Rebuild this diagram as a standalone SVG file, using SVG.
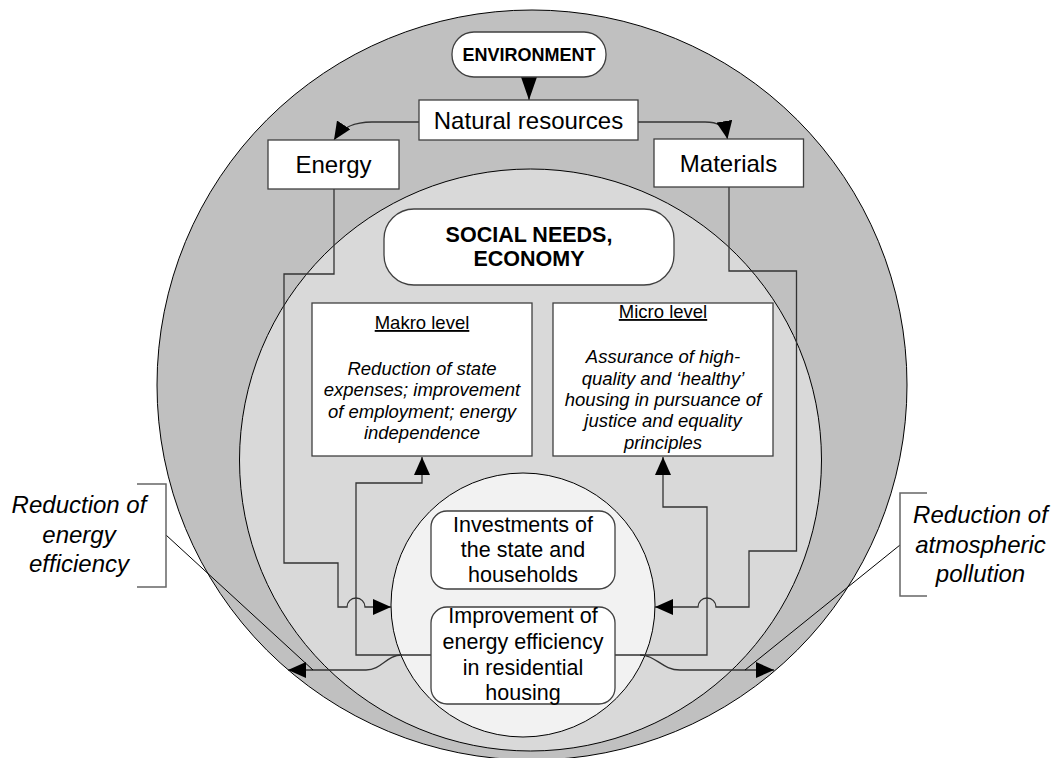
<svg xmlns="http://www.w3.org/2000/svg" width="1057" height="758" viewBox="0 0 1057 758">
  <style>
    text { font-family: "Liberation Sans", Arial, sans-serif; fill: #000; }
    .box { fill: #fff; stroke: #404040; stroke-width: 1.3; }
    .ring { stroke: #000; stroke-width: 1; }
    .link { fill: none; stroke: #333; stroke-width: 1.3; }
    .thin { fill: none; stroke: #000; stroke-width: 1; }
    .brace { fill: none; stroke: #666; stroke-width: 1.5; }
    .t24 { font-size: 24px; text-anchor: middle; }
    .t21 { font-size: 21.5px; text-anchor: middle; }
    .bold { font-weight: bold; text-anchor: middle; }
    .lvl { font-size: 18.5px; text-anchor: middle; text-decoration: underline; }
    .it { font-size: 18.5px; font-style: italic; text-anchor: middle; }
    .note { font-size: 24px; font-style: italic; text-anchor: middle; }
  </style>
  <defs>
    <marker id="head" markerUnits="userSpaceOnUse" markerWidth="18" markerHeight="16" viewBox="0 0 18 16" refX="18" refY="8" orient="auto">
      <path d="M0,0 L18,8 L0,16 z" fill="#000"/>
    </marker>
    <marker id="headLong" markerUnits="userSpaceOnUse" markerWidth="23" markerHeight="16" viewBox="0 0 23 16" refX="23" refY="8" orient="auto">
      <path d="M0,0 L23,8 L0,16 z" fill="#000"/>
    </marker>
  </defs>

  <!-- nested spheres: environment, society/economy, housing -->
  <g id="spheres">
    <circle class="ring" cx="532" cy="385" r="375" fill="#c0c0c0"/>
    <circle class="ring" cx="530.5" cy="460" r="291" fill="#d9d9d9"/>
    <circle class="ring" cx="523" cy="605" r="132" fill="#f2f2f2"/>
  </g>

  <!-- connectors -->
  <g id="connectors">
    <path class="link" d="M529,77 L529,100" marker-end="url(#headLong)"/>
    <path class="link" d="M419,122 L372,122 C356,122 343,126 334,140" marker-end="url(#head)"/>
    <path class="link" d="M638,122 L705,122 C717,122 725,125 727.5,139" marker-end="url(#head)"/>
    <!-- energy into housing -->
    <path class="link" d="M334,189 L334,274 L284,274 L284,563 L338,563 L338,607 L347,607 A9,9 0 0 1 365,607 L391,607" marker-end="url(#head)"/>
    <!-- materials into housing -->
    <path class="link" d="M729,187 L729,271 L796.5,271 L796.5,551 L749,551 L749,607 L716,607 A9,9 0 0 0 698,607 L655,607" marker-end="url(#head)"/>
    <!-- housing to macro and micro levels -->
    <path class="link" d="M431,655 L356,655 L356,483 L422,483 L422,457" marker-end="url(#head)"/>
    <path class="link" d="M615,655 L707,655 L707,507 L663,507 L663,457" marker-end="url(#head)"/>
    <!-- housing outcomes -->
    <path class="link" d="M402,655 C386,655 382,670 366,670 L288,670" marker-end="url(#head)"/>
    <path class="link" d="M640,655 C656,655 662,670 680,670 L774,670" marker-end="url(#head)"/>
    <path class="thin" d="M166,535 L313,670"/>
    <path class="thin" d="M900,545 L745,670"/>
  </g>

  <g id="environment">
    <rect class="box" x="452" y="32" width="154" height="45" rx="22" ry="22"/>
    <text class="bold" x="529" y="60.5" font-size="18">ENVIRONMENT</text>
  </g>

  <g id="natural-resources">
    <rect class="box" x="419" y="100" width="219" height="40"/>
    <text class="t24" x="528.5" y="128.5">Natural resources</text>
  </g>

  <g id="energy">
    <rect class="box" x="268" y="140" width="131" height="49"/>
    <text class="t24" x="333.5" y="173">Energy</text>
  </g>

  <g id="materials">
    <rect class="box" x="654" y="139" width="149.5" height="48"/>
    <text class="t24" x="728.5" y="171.5">Materials</text>
  </g>

  <g id="social-needs">
    <rect class="box" x="384" y="209" width="290" height="76" rx="30" ry="30"/>
    <text class="bold" x="529" y="242" font-size="21.5">SOCIAL NEEDS,</text>
    <text class="bold" x="529" y="266" font-size="21.5">ECONOMY</text>
  </g>

  <g id="makro-level">
    <rect class="box" x="312" y="303" width="220" height="153"/>
    <text class="lvl" x="422" y="329">Makro level</text>
    <text class="it" x="422" y="375">Reduction of state</text>
    <text class="it" x="422" y="396">expenses; improvement</text>
    <text class="it" x="422" y="417.5">of employment; energy</text>
    <text class="it" x="422" y="439">independence</text>
  </g>

  <g id="micro-level">
    <rect class="box" x="553" y="303" width="220" height="153"/>
    <text class="lvl" x="663" y="318">Micro level</text>
    <text class="it" x="663" y="363">Assurance of high-</text>
    <text class="it" x="663" y="384.5">quality and ‘healthy’</text>
    <text class="it" x="663" y="406">housing in pursuance of</text>
    <text class="it" x="663" y="427">justice and equality</text>
    <text class="it" x="663" y="448.5">principles</text>
  </g>

  <g id="investments">
    <rect class="box" x="431" y="511" width="184" height="78" rx="16" ry="16"/>
    <text class="t21" x="523" y="532">Investments of</text>
    <text class="t21" x="523" y="557">the state and</text>
    <text class="t21" x="523" y="582">households</text>
  </g>

  <g id="improvement">
    <rect class="box" x="431" y="607" width="184" height="97" rx="16" ry="16"/>
    <text class="t21" x="523" y="623">Improvement of</text>
    <text class="t21" x="523" y="649">energy efficiency</text>
    <text class="t21" x="523" y="675">in residential</text>
    <text class="t21" x="523" y="700">housing</text>
  </g>

  <g id="energy-efficiency-note">
    <path class="brace" d="M137,484 L166,484 L166,587 L137,587"/>
    <text class="note" x="79" y="513">Reduction of</text>
    <text class="note" x="79" y="542.5">energy</text>
    <text class="note" x="79" y="572">efficiency</text>
  </g>

  <g id="pollution-note">
    <path class="brace" d="M927,493 L900,493 L900,596 L927,596"/>
    <text class="note" x="980.5" y="523">Reduction of</text>
    <text class="note" x="980.5" y="552.5">atmospheric</text>
    <text class="note" x="980.5" y="582">pollution</text>
  </g>
</svg>
